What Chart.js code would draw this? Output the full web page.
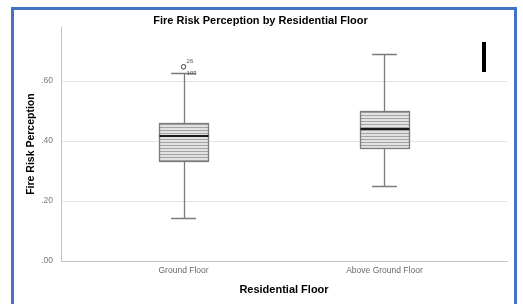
<!DOCTYPE html>
<html>
<head>
<meta charset="utf-8">
<script src="https://cdn.jsdelivr.net/npm/chart.js@4/dist/chart.umd.min.js"></script>
<style>
  html, body { margin: 0; padding: 0; background: #fff; overflow: hidden; }
  #frame {
    position: absolute; left: 11px; top: 7px;
    width: 500px; height: 300px;
    border: 3px solid #4472C4; border-bottom: none;
  }
  #box { position: relative; width: 500px; height: 294px; }
  #mark { position: absolute; left: 482px; top: 42px; width: 4px; height: 30px; background: #000; }
</style>
</head>
<body>
<div id="frame"><div id="box"><canvas id="floorChart"></canvas></div></div>
<div id="mark"></div>
<script>
// data
const categories = ['Ground Floor', 'Above Ground Floor'];
const whiskerLow = [0.145, 0.250];
const quart1 = [0.333, 0.376];
const medians = [0.417, 0.439];
const quart3 = [0.461, 0.501];
const whiskerHigh = [0.626, 0.690];
const outlierGroup = [0, 0];
const outlierValue = [0.648, 0.648];
const outlierId = ['26', '103'];
const yTicks = [0, 0.2, 0.4, 0.6];

const boxHalf = 0.124;   // half box width in category units
const capHalf = 0.062;   // half whisker cap width

Chart.defaults.font.family = 'Arial, "Liberation Sans", sans-serif';

const ctx = document.getElementById('floorChart').getContext('2d');

// horizontal hatch like SPSS boxes
const hatch = (() => {
  const c = document.createElement('canvas');
  c.width = 4; c.height = 3;
  const g = c.getContext('2d');
  g.fillStyle = '#e2e2e2';
  g.fillRect(0, 0, 4, 3);
  g.fillStyle = '#a3a3a3';
  g.fillRect(0, 0, 4, 1);
  return ctx.createPattern(c, 'repeat');
})();

const boxPlot = {
  id: 'boxPlot',
  beforeDatasetsDraw(chart) {
    const {ctx, scales: {x, y}} = chart;
    ctx.save();
    categories.forEach((c, i) => {
      const cx = Math.round(x.getPixelForValue(i)) + 0.5;
      const l = Math.round(x.getPixelForValue(i - boxHalf)) + 0.5;
      const r = Math.round(x.getPixelForValue(i + boxHalf)) + 0.5;
      const cl = x.getPixelForValue(i - capHalf);
      const cr = x.getPixelForValue(i + capHalf);
      const yLo = Math.round(y.getPixelForValue(whiskerLow[i])) + 0.5;
      const yQ1 = Math.round(y.getPixelForValue(quart1[i])) + 0.5;
      const yMed = Math.round(y.getPixelForValue(medians[i]));
      const yQ3 = Math.round(y.getPixelForValue(quart3[i])) + 0.5;
      const yHi = Math.round(y.getPixelForValue(whiskerHigh[i])) + 0.5;

      // whiskers
      ctx.strokeStyle = '#7b7b7b';
      ctx.lineWidth = 1.3;
      ctx.beginPath();
      ctx.moveTo(cx, yQ3); ctx.lineTo(cx, yHi);
      ctx.moveTo(cl, yHi); ctx.lineTo(cr, yHi);
      ctx.moveTo(cx, yQ1); ctx.lineTo(cx, yLo);
      ctx.moveTo(cl, yLo); ctx.lineTo(cr, yLo);
      ctx.stroke();

      // box
      ctx.fillStyle = hatch;
      ctx.fillRect(l, yQ3, r - l, yQ1 - yQ3);
      ctx.strokeStyle = '#7b7b7b';
      ctx.lineWidth = 1.3;
      ctx.strokeRect(l, yQ3, r - l, yQ1 - yQ3);

      // median
      ctx.strokeStyle = '#1a1a1a';
      ctx.lineWidth = 2;
      ctx.beginPath();
      ctx.moveTo(l, yMed); ctx.lineTo(r, yMed);
      ctx.stroke();
    });
    ctx.restore();
  },
  afterDatasetsDraw(chart) {
    const {ctx, scales: {x, y}} = chart;
    ctx.save();
    ctx.font = '6px Arial, "Liberation Sans", sans-serif';
    ctx.fillStyle = '#555';
    ctx.textBaseline = 'middle';
    const seen = {};
    outlierValue.forEach((v, k) => {
      const key = outlierGroup[k] + ':' + v;
      const n = seen[key] || 0;
      seen[key] = n + 1;
      const px = x.getPixelForValue(outlierGroup[k]);
      const py = y.getPixelForValue(v);
      ctx.fillText(outlierId[k], px + 3, py - 5 + n * 12);
    });
    ctx.restore();
  }
};

new Chart(ctx, {
  type: 'scatter',
  data: {
    datasets: [{
      label: 'outliers',
      data: outlierValue.map((v, k) => ({x: outlierGroup[k], y: v})),
      pointStyle: 'circle',
      pointRadius: 2.2,
      backgroundColor: '#fff',
      borderColor: '#555',
      borderWidth: 1
    }]
  },
  options: {
    responsive: true,
    maintainAspectRatio: false,
    animation: false,
    layout: { padding: { left: 0, right: 7, top: 0, bottom: 0 } },
    plugins: {
      legend: { display: false },
      tooltip: { enabled: false },
      title: {
        display: true,
        text: 'Fire Risk Perception by Residential Floor',
        color: '#000',
        font: { size: 11, weight: 'bold' },
        padding: { top: 4, bottom: 0 }
      }
    },
    scales: {
      x: {
        type: 'linear',
        min: -0.61,
        max: 1.61,
        afterBuildTicks: (s) => { s.ticks = categories.map((c, i) => ({value: i})); },
        afterFit: (s) => { s.height = 43; },
        grid: { display: false, drawTicks: false },
        border: { display: true, color: '#c4c4c4', width: 1 },
        ticks: {
          color: '#6a6a6a',
          padding: 5,
          maxRotation: 0,
          font: { size: 8.5 },
          callback: (v) => categories[v]
        },
        title: {
          display: true,
          text: 'Residential Floor',
          color: '#000',
          font: { size: 11, weight: 'bold' },
          padding: { top: 0, bottom: 7 }
        }
      },
      y: {
        min: 0,
        max: 0.78,
        afterBuildTicks: (s) => { s.ticks = yTicks.map(v => ({value: v})); },
        afterFit: (s) => { s.width = 47; },
        grid: { color: '#e4e4e4', lineWidth: 1, drawTicks: false },
        border: { display: true, color: '#c4c4c4', width: 1 },
        ticks: {
          color: '#7a7a7a',
          padding: 8,
          font: { size: 8.5 },
          callback: (v) => v.toFixed(2).replace(/^0/, '')
        },
        title: {
          display: true,
          text: 'Fire Risk Perception',
          color: '#000',
          font: { size: 10.5, weight: 'bold' },
          padding: { top: 11, bottom: 0 }
        }
      }
    }
  },
  plugins: [boxPlot]
});
</script>
</body>
</html>
